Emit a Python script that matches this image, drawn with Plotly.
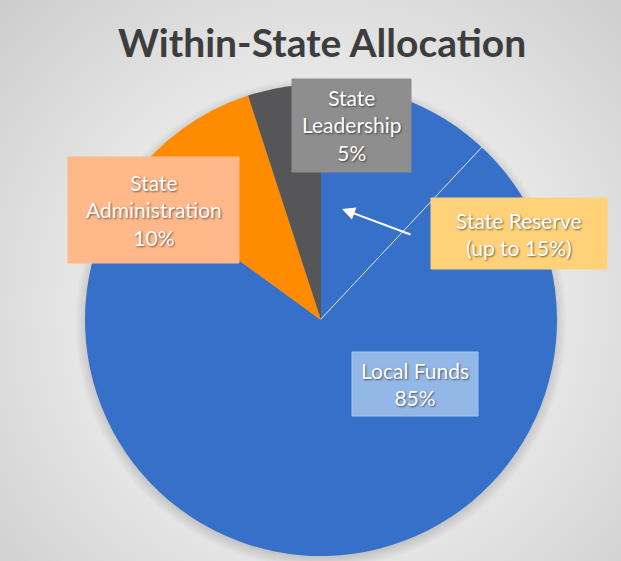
import base64
import plotly.graph_objects as go

W, H = 621, 561

labels = ["Local Funds", "State Administration", "State Leadership"]
values = [85, 10, 5]
colors = ["#3670C9", "#FF8C00", "#565658"]
box_texts = ["Local Funds<br>85%", "State<br>Administration<br>10%", "State<br>Leadership<br>5%",
             "State Reserve<br>(up to 15%)"]
title_text = "Within-State Allocation"

def px(x):
    return x / W

def py(y):
    return 1 - y / H

cx, cy, r = 321, 320, 236

svg = f'''<svg xmlns="http://www.w3.org/2000/svg" width="{W}" height="{H}" viewBox="0 0 {W} {H}">
<defs>
<radialGradient id="bg" cx="{cx}" cy="{cy-10}" r="440" gradientUnits="userSpaceOnUse">
<stop offset="0" stop-color="#f3f3f3"/><stop offset="0.55" stop-color="#e6e6e6"/><stop offset="1" stop-color="#cdcdcd"/>
</radialGradient>
<radialGradient id="sh" cx="{cx}" cy="{cy+3}" r="{r+10}" gradientUnits="userSpaceOnUse">
<stop offset="0.9" stop-color="#000" stop-opacity="0.3"/><stop offset="1" stop-color="#000" stop-opacity="0"/>
</radialGradient>
</defs>
<rect width="{W}" height="{H}" fill="url(#bg)"/>
<circle cx="{cx}" cy="{cy+3}" r="{r+10}" fill="url(#sh)"/>
</svg>'''
src = "data:image/svg+xml;base64," + base64.b64encode(svg.encode()).decode()

fig = go.Figure()
fig.add_trace(go.Pie(
    labels=labels, values=values, sort=False, direction="clockwise", rotation=0,
    marker=dict(colors=colors, line=dict(width=0)),
    textinfo="none", hoverinfo="label+percent", showlegend=False,
    domain=dict(x=[px(cx - r), px(cx + r)], y=[py(cy + r), py(cy - r)]),
))

shapes = []
# slice boundary line for state reserve
shapes.append(dict(type="line", xref="paper", yref="paper", x0=px(cx), y0=py(cy - 1),
                   x1=px(482), y1=py(147), line=dict(color="rgba(255,255,255,0.85)", width=1)))

boxes = [
    (352, 352, 478, 416, "#93B8E7", "#A3C3EB"),
    (68, 157, 239, 263, "#FFB88A", "#FFB88A"),
    (292, 79, 411, 172, "#8E8E8E", "#8E8E8E"),
    (431, 198, 607, 269, "#FFD27A", "#FFD27A"),
]
for (x0, y0, x1, y1, c, lc) in boxes:
    shapes.append(dict(type="rect", xref="paper", yref="paper", x0=px(x0), x1=px(x1),
                       y0=py(y1), y1=py(y0), fillcolor=c, line=dict(color=lc, width=1), layer="above"))

font_box = dict(family="Lato, Open Sans, sans-serif", size=21, color="white",
                shadow="1px 1px 2px rgba(0,0,0,0.55)")
annotations = []
for (x0, y0, x1, y1, c, lc), t in zip(boxes, box_texts):
    annotations.append(dict(x=px((x0 + x1) / 2), y=py((y0 + y1) / 2), xref="paper", yref="paper",
                            text=t, showarrow=False, font=font_box, align="center",
                            xanchor="center", yanchor="middle"))
# arrow
annotations.append(dict(x=px(342), y=py(209), ax=70, ay=26, xref="paper", yref="paper",
                        axref="pixel", ayref="pixel", text="", showarrow=True, arrowhead=2,
                        arrowsize=1.3, arrowwidth=2, arrowcolor="white"))
# title
annotations.append(dict(x=px(322), y=py(42), xref="paper", yref="paper", text=f"<b>{title_text}</b>",
                        showarrow=False, xanchor="center", yanchor="middle",
                        font=dict(family="Lato, Open Sans, sans-serif", size=39, color="#3d3d3d")))

fig.update_layout(
    width=W, height=H, margin=dict(l=0, r=0, t=0, b=0),
    paper_bgcolor="#e3e3e3", plot_bgcolor="rgba(0,0,0,0)",
    shapes=shapes, annotations=annotations,
    images=[dict(source=src, xref="paper", yref="paper", x=0, y=1, sizex=1, sizey=1,
                 xanchor="left", yanchor="top", sizing="stretch", layer="below")],
)

fig.write_html("out.html", config={"displayModeBar": False},
               post_script="document.body.style.margin='0';document.body.style.padding='0';")
